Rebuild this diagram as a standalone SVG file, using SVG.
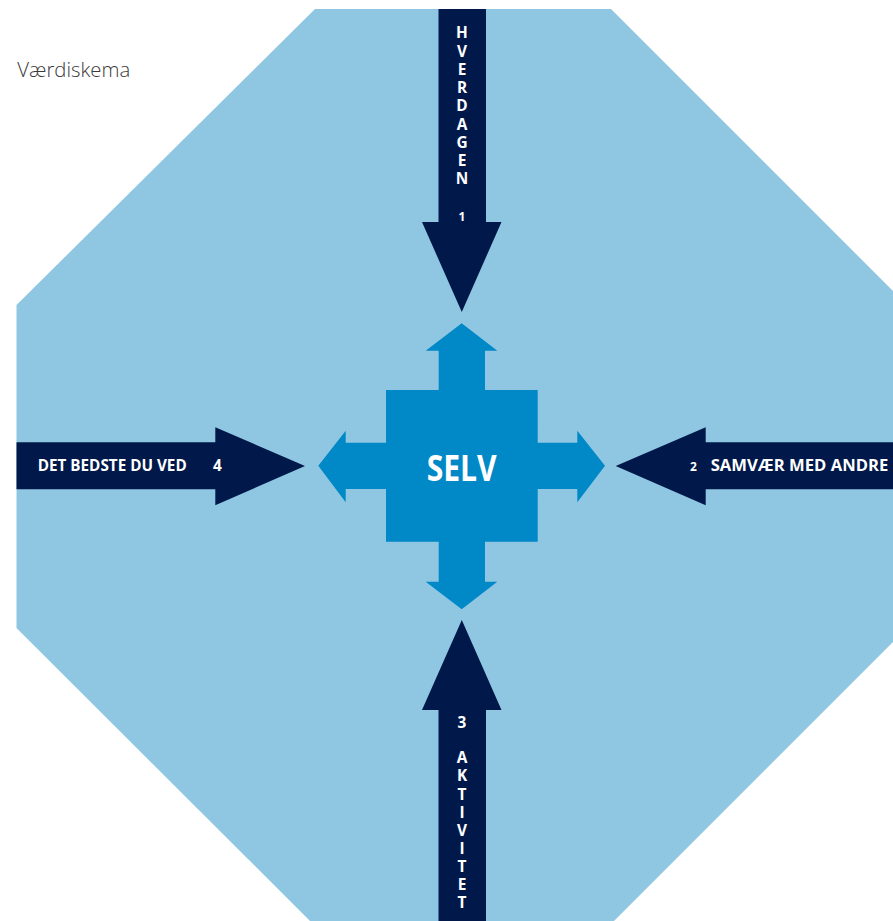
<svg xmlns="http://www.w3.org/2000/svg" width="893" height="921" viewBox="0 0 893 921">
<style>
.bg{fill:#8fc7e2}
.arrow{fill:#00194a}
.core{fill:#0088c7}
.lbl{font-family:"Open Sans","Noto Sans","Liberation Sans",sans-serif;font-weight:700;font-size:15.4px;fill:#ffffff}
.num{font-family:"Open Sans","Noto Sans","Liberation Sans",sans-serif;font-weight:700;font-size:12px;fill:#ffffff}
.title{font-family:"Open Sans","Noto Sans","Liberation Sans",sans-serif;font-weight:300;font-size:20px;fill:#3a3a3a}
.selv{font-family:"Open Sans","Noto Sans","Liberation Sans",sans-serif;font-weight:700;font-size:35px;fill:#ffffff}
</style>
<rect width="893" height="921" fill="#ffffff"/>
<text class="title" x="17.3" y="76.7" textLength="113" lengthAdjust="spacingAndGlyphs">Værdiskema</text>
<polygon id="octagon" class="bg" points="315,9 611,9 907,305 907,628 611,924 313,924 16.5,628 16.5,305"/>
<g id="connectors">
  <g id="arrow-hverdagen">
    <polygon class="arrow" points="438.5,9 486,9 486,222 501.5,222 461.8,312 422,222 438.5,222"/>
    <text class="lbl" text-anchor="middle"><tspan x="462" y="38.3">H</tspan><tspan x="462" dy="18.25">V</tspan><tspan x="462" dy="18.25">E</tspan><tspan x="462" dy="18.25">R</tspan><tspan x="462" dy="18.25">D</tspan><tspan x="462" dy="18.25">A</tspan><tspan x="462" dy="18.25">G</tspan><tspan x="462" dy="18.25">E</tspan><tspan x="462" dy="18.25">N</tspan></text>
    <text class="num" x="462" y="220.7" text-anchor="middle">1</text>
  </g>
  <g id="arrow-samvaer">
    <polygon class="arrow" points="615.7,466 705.7,427.3 705.7,442.3 900,442.3 900,489.3 705.7,489.3 705.7,505.3"/>
    <text class="num" x="693.5" y="471" text-anchor="middle">2</text>
    <text class="lbl" x="710.7" y="471" textLength="177.6" lengthAdjust="spacingAndGlyphs">SAMVÆR MED ANDRE</text>
  </g>
  <g id="arrow-aktivitet">
    <polygon class="arrow" points="461.8,620 501.5,710 486,710 486,930 438.5,930 438.5,710 422,710"/>
    <text class="lbl" x="462" y="728" text-anchor="middle">3</text>
    <text class="lbl" text-anchor="middle"><tspan x="462" y="763.3">A</tspan><tspan x="462" dy="18.1">K</tspan><tspan x="462" dy="18.1">T</tspan><tspan x="462" dy="18.1">I</tspan><tspan x="462" dy="18.1">V</tspan><tspan x="462" dy="18.1">I</tspan><tspan x="462" dy="18.1">T</tspan><tspan x="462" dy="18.1">E</tspan><tspan x="462" dy="18.1">T</tspan></text>
  </g>
  <g id="arrow-bedste">
    <polygon class="arrow" points="16.5,442.3 215.3,442.3 215.3,427.3 305,466 215.3,505.3 215.3,489.3 16.5,489.3"/>
    <text class="lbl" x="37.7" y="471" textLength="149" lengthAdjust="spacingAndGlyphs">DET BEDSTE DU VED</text>
    <text class="lbl" x="217.5" y="471" text-anchor="middle">4</text>
  </g>
</g>
<g id="selv">
  <path class="core" d="M461.7,323.3 L497.3,350.7 L485,350.7 L485,390 L537.7,390 L537.7,442.7 L577.3,442.7 L577.3,430.7 L605,465.7 L577.3,502.3 L577.3,489 L537.7,489 L537.7,541.7 L485,541.7 L485,581.7 L497.3,581.7 L461.7,609.3 L425.7,581.7 L438.7,581.7 L438.7,541.7 L386,541.7 L386,489 L345.7,489 L345.7,502.3 L318.3,465.7 L345.7,430.7 L345.7,442.7 L386,442.7 L386,390 L438.7,390 L438.7,350.7 L425.7,350.7 Z"/>
  <text class="selv" x="426.7" y="480.7" textLength="70" lengthAdjust="spacingAndGlyphs">SELV</text>
</g>
</svg>
